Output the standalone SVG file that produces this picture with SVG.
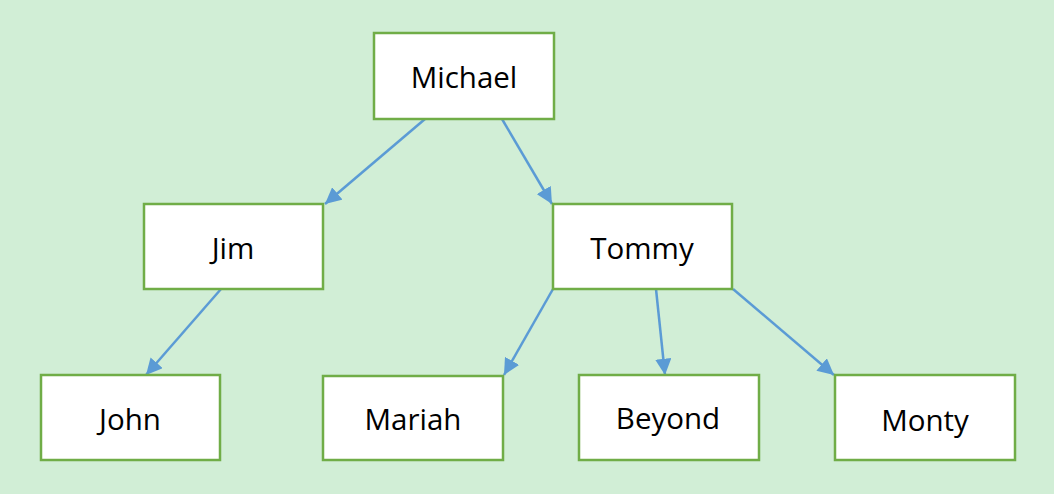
<svg xmlns="http://www.w3.org/2000/svg" width="1054" height="494" viewBox="0 0 1054 494">
<style>
.box{fill:#ffffff;stroke:#70ad47;stroke-width:2.5}
.lbl{font-family:"Open Sans","Liberation Sans",sans-serif;font-size:29.5px;fill:#000;text-anchor:middle;dominant-baseline:central}
.edge{stroke:#5b9bd5;stroke-width:2.5;fill:none;marker-end:url(#ah)}
</style>
<defs>
<marker id="ah" viewBox="0 0 10 10" refX="10" refY="5" markerWidth="6.5" markerHeight="6.5" markerUnits="strokeWidth" orient="auto">
<path d="M0,0 L10,5 L0,10 z" fill="#5b9bd5"/>
</marker>
</defs>
<rect x="0" y="0" width="1054" height="494" fill="#d1eed6"/>
<g id="connectors">
<line class="edge" x1="425" y1="119" x2="325" y2="204"/>
<line class="edge" x1="502" y1="119" x2="552" y2="204"/>
<line class="edge" x1="221" y1="289" x2="146" y2="375"/>
<line class="edge" x1="553" y1="289" x2="504" y2="375"/>
<line class="edge" x1="656" y1="289" x2="665" y2="375"/>
<line class="edge" x1="733" y1="289" x2="834" y2="375"/>
</g>
<g id="michael"><rect class="box" x="374" y="33" width="180" height="86"/><text class="lbl" x="464" y="76">Michael</text></g>
<g id="jim"><rect class="box" x="144" y="204" width="179" height="85"/><text class="lbl" x="233" y="247">Jim</text></g>
<g id="tommy"><rect class="box" x="553" y="204" width="179" height="85"/><text class="lbl" x="642" y="247">Tommy</text></g>
<g id="john"><rect class="box" x="41" y="375" width="179" height="85"/><text class="lbl" x="130" y="418">John</text></g>
<g id="mariah"><rect class="box" x="323" y="376" width="180" height="84"/><text class="lbl" x="413" y="418">Mariah</text></g>
<g id="beyond"><rect class="box" x="579" y="375" width="180" height="85"/><text class="lbl" x="668" y="417">Beyond</text></g>
<g id="monty"><rect class="box" x="835" y="375" width="180" height="85"/><text class="lbl" x="925" y="419">Monty</text></g>
</svg>
